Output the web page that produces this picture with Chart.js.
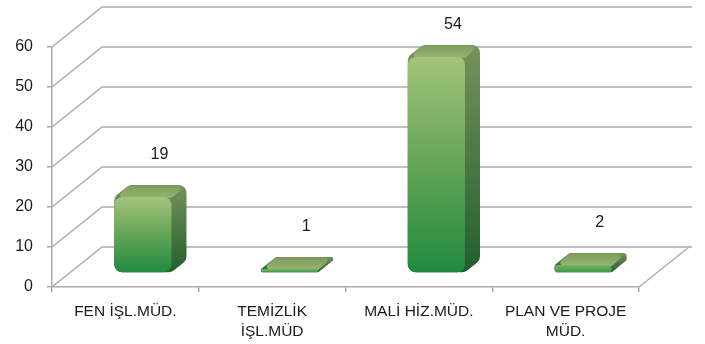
<!DOCTYPE html>
<html>
<head>
<meta charset="utf-8">
<script src="https://cdn.jsdelivr.net/npm/chart.js@4"></script>
<style>
  body { margin: 0; background: #fff; }
  #wrap { width: 705px; height: 344px; }
</style>
</head>
<body>
<div id="wrap"><canvas id="chart"></canvas></div>
<script>
const categories = [['FEN İŞL.MÜD.'], ['TEMİZLİK', 'İŞL.MÜD'], ['MALİ HİZ.MÜD.'], ['PLAN VE PROJE', 'MÜD.']];
const counts = [19, 1, 54, 2];
const yMin = 0;
const yMax = 60;
const yStep = 10;

// depth of the 3d box (back wall offset) and where the bars sit inside it
const DEPTH_X = 50, DEPTH_Y = -40;
const BAR_FRONT = 0.35, BAR_DEPTH = 0.3;
const GRID = '#ababab';
const FONT = '"Liberation Sans", Arial, sans-serif';

function roundedPoly(ctx, pts, r) {
  const n = pts.length;
  const a = pts[n - 1], b = pts[0];
  ctx.beginPath();
  ctx.moveTo((a[0] + b[0]) / 2, (a[1] + b[1]) / 2);
  for (let i = 0; i < n; i++) {
    const p = pts[i], q = pts[(i + 1) % n];
    ctx.arcTo(p[0], p[1], q[0], q[1], r);
  }
  ctx.closePath();
}

const walls = {
  id: 'walls',
  beforeDatasetsDraw(chart) {
    const ctx = chart.ctx, a = chart.chartArea, ys = chart.scales.y;
    ctx.save();
    ctx.strokeStyle = GRID;
    ctx.lineWidth = 1.5;
    for (let v = yMin; v <= yMax; v += yStep) {
      const y = ys.getPixelForValue(v);
      ctx.beginPath();
      ctx.moveTo(a.left, y);
      ctx.lineTo(a.left + DEPTH_X, y + DEPTH_Y);
      ctx.lineTo(a.right + DEPTH_X + 3, y + DEPTH_Y);
      ctx.stroke();
    }
    // right edge of the floor
    ctx.beginPath();
    ctx.moveTo(a.right, a.bottom);
    ctx.lineTo(a.right + DEPTH_X, a.bottom + DEPTH_Y);
    ctx.stroke();
    ctx.restore();
  }
};

const bars3d = {
  id: 'bars3d',
  afterDatasetsDraw(chart) {
    const ctx = chart.ctx, a = chart.chartArea;
    const meta = chart.getDatasetMeta(0);
    const fx = DEPTH_X * BAR_FRONT, fy = DEPTH_Y * BAR_FRONT;
    const sx = DEPTH_X * BAR_DEPTH, sy = DEPTH_Y * BAR_DEPTH;
    ctx.save();
    meta.data.forEach((bar, i) => {
      const x0 = bar.x - bar.width / 2 + fx, x1 = bar.x + bar.width / 2 + fx;
      const yt = bar.y + fy, yb = bar.base + fy;
      const h = yb - yt;
      const r = Math.min(8, Math.max(1, h / 2));

      // side face (also fills the whole silhouette)
      const side = ctx.createLinearGradient(0, yt + sy, 0, yb);
      side.addColorStop(0, '#76925a');
      side.addColorStop(1, '#215f2e');
      ctx.fillStyle = side;
      roundedPoly(ctx, [[x0, yb], [x0, yt], [x0 + sx, yt + sy], [x1 + sx, yt + sy], [x1 + sx, yb + sy], [x1, yb]], r);
      ctx.fill();

      // top face
      const top = ctx.createLinearGradient(0, yt + sy, 0, yt);
      top.addColorStop(0, '#7d9b5c');
      top.addColorStop(1, '#93b372');
      ctx.fillStyle = top;
      roundedPoly(ctx, [[x0 + 1, yt + 1], [x0 + sx, yt + sy + 0.5], [x1 + sx - 1, yt + sy + 0.5], [x1, yt + 1]], 3);
      ctx.fill();

      // front face
      const front = ctx.createLinearGradient(0, yt, 0, yb);
      if (h > 20) {
        front.addColorStop(0, '#a2c47a');
        front.addColorStop(0.45, '#6ba759');
        front.addColorStop(1, '#208a3f');
      } else {
        front.addColorStop(0, '#7fae62');
        front.addColorStop(1, '#3d9a49');
      }
      ctx.fillStyle = front;
      roundedPoly(ctx, [[x0, yt], [x1, yt], [x1, yb], [x0, yb]], r);
      ctx.fill();

      // value label above the bar
      ctx.fillStyle = '#1a1a1a';
      ctx.font = '16px ' + FONT;
      ctx.textAlign = 'center';
      ctx.textBaseline = 'middle';
      const ly = Math.max(bar.y - 56, a.top + DEPTH_Y + 18);
      ctx.fillText(String(counts[i]), bar.x + 34, ly);
    });
    ctx.restore();
  }
};

new Chart(document.getElementById('chart'), {
  type: 'bar',
  data: {
    labels: categories,
    datasets: [{
      data: counts,
      backgroundColor: 'rgba(0,0,0,0)',
      borderWidth: 0,
      barPercentage: 0.39,
      categoryPercentage: 1
    }]
  },
  options: {
    responsive: true,
    maintainAspectRatio: false,
    animation: false,
    layout: { padding: { top: 47, right: 66, left: 0, bottom: 0 } },
    plugins: { legend: { display: false }, tooltip: { enabled: false } },
    scales: {
      x: {
        offset: true,
        grid: { offset: true, drawOnChartArea: false, drawTicks: true, tickLength: 5, color: GRID, lineWidth: 1.5 },
        border: { color: GRID, width: 1.5 },
        ticks: {
          color: '#1a1a1a',
          font: { family: FONT, size: 15.5, lineHeight: 1.28 },
          padding: 10,
          maxRotation: 0,
          autoSkip: false
        },
        afterFit(scale) { scale.height = 57; }
      },
      y: {
        min: yMin,
        max: yMax,
        grid: { drawOnChartArea: false, drawTicks: true, tickLength: 5, color: GRID, lineWidth: 1.5 },
        border: { color: GRID, width: 1.5 },
        ticks: {
          stepSize: yStep,
          color: '#1a1a1a',
          font: { family: FONT, size: 16 },
          padding: 14
        },
        afterFit(scale) { scale.width = 52; }
      }
    }
  },
  plugins: [walls, bars3d]
});
</script>
</body>
</html>
